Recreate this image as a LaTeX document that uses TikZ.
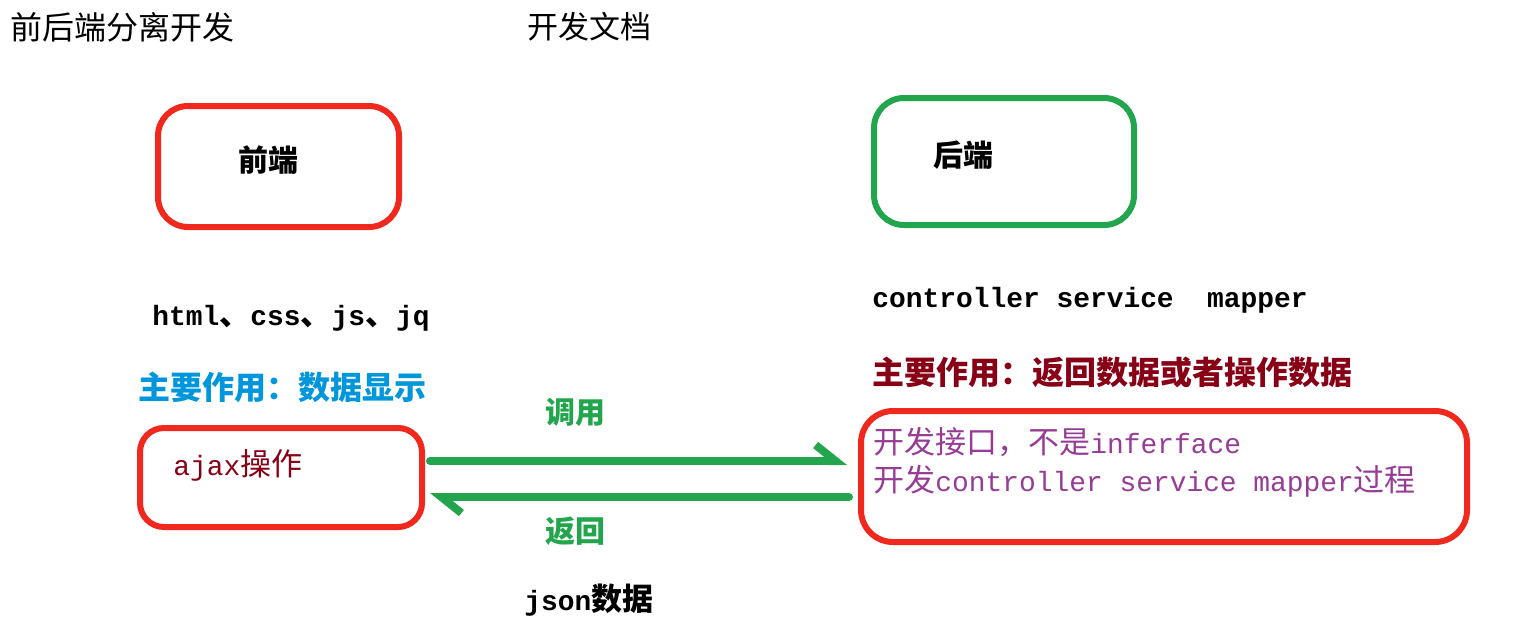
\documentclass[tikz,border=0pt]{standalone}
\usepackage{fontspec}
\setmainfont{Noto Sans CJK SC}
\setmonofont{Liberation Mono}[Scale=0.9]
\usepackage{tikz}
\usetikzlibrary{arrows.meta,positioning}
\definecolor{paintred}{RGB}{240,40,30}
\definecolor{paintgreen}{RGB}{34,165,76}
\definecolor{paintblue}{RGB}{0,150,220}
\definecolor{winered}{RGB}{136,0,21}
\definecolor{paintpurple}{RGB}{150,60,150}
\tikzstyle{endbox} = [rectangle, draw, line width=3pt, rounded corners=15pt]
\tikzstyle{txt} = [anchor=west, inner sep=0pt]
\tikzstyle{connector} = [line width=4pt, draw=paintgreen, line cap=round, -{Straight Barb[harpoon,length=10pt,width=16pt]}]

\begin{document}
\begin{tikzpicture}[x=0.5pt,y=-0.5pt]
    \useasboundingbox (0,0) rectangle (1513,632);
    \node[txt,font=\fontsize{16}{19}\selectfont] (title) at (10,27) {前后端分离开发};
    \node[txt,font=\fontsize{15.5}{19}\selectfont] (doc) at (527,27) {开发文档};
    \node[endbox,draw=paintred,minimum width=120.5pt,minimum height=60.5pt] (front) at (278.5,166.5) {};
    \node[endbox,draw=paintgreen,minimum width=130pt,minimum height=63.5pt] (back) at (1004,161.5) {};
    \node[endbox,draw=paintred,minimum width=141pt,minimum height=49.5pt,rounded corners=12pt] (ajax) at (281,477.5) {};
    \node[endbox,draw=paintred,minimum width=303pt,minimum height=65.5pt,rounded corners=16pt] (api) at (1164,476.5) {};
    \node[txt,font=\fontsize{15}{18}\selectfont\bfseries] (front-name) at (238,160) {前端};
    \node[txt,font=\fontsize{15}{18}\selectfont\bfseries] (back-name) at (933,155) {后端};
    \node[txt,font=\fontsize{15.5}{18}\selectfont\bfseries] (front-tech) at (152,318) {\texttt{html}、\texttt{css}、\texttt{js}、\texttt{jq}};
    \node[txt,font=\fontsize{15.5}{18}\selectfont\bfseries] (back-tech) at (872,300) {\texttt{controller service~~mapper}};
    \node[txt,font=\fontsize{16}{19}\selectfont\bfseries,text=paintblue] (front-role) at (138,387) {主要作用：数据显示};
    \node[txt,font=\fontsize{16}{19}\selectfont\bfseries,text=winered] (back-role) at (872,372) {主要作用：返回数据或者操作数据};
    \node[txt,font=\fontsize{15.5}{18}\selectfont,text=winered] (ajax-name) at (173,465) {\texttt{ajax}操作};
    \node[txt,font=\fontsize{15.5}{19}\selectfont,text=paintpurple,align=left] (api-name) at (873,462)
        {开发接口，不是\texttt{inferface}\\开发\texttt{controller service mapper}过程};
    \node[txt,font=\fontsize{15}{18}\selectfont\bfseries,text=paintgreen] (call) at (545,412) {调用};
    \node[txt,font=\fontsize{15}{18}\selectfont\bfseries,text=paintgreen] (back-call) at (545,531) {返回};
    \node[txt,font=\fontsize{15.5}{18}\selectfont\bfseries] (json) at (524,600) {\texttt{json}数据};
    \draw[connector] ([xshift=2.5pt,yshift=8.25pt]ajax.east) -- ([xshift=-5.5pt,yshift=7.75pt]api.west);
    \draw[connector] ([xshift=-4.5pt,yshift=-10.25pt]api.west) -- ([xshift=2.5pt,yshift=-9.75pt]ajax.east);
\end{tikzpicture}
\end{document}
